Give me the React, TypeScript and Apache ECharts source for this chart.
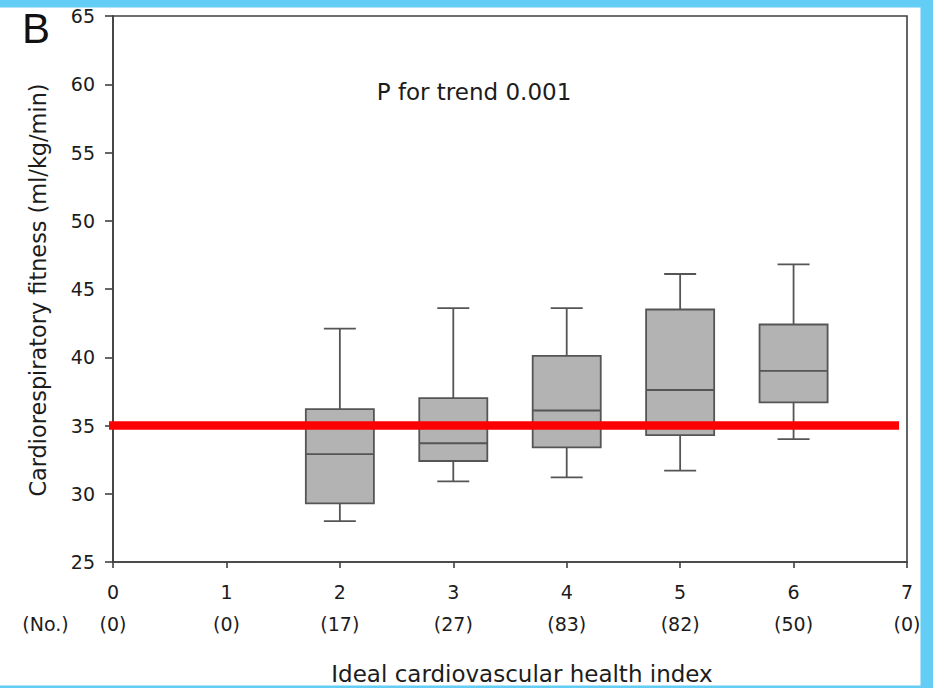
import React, { useEffect, useRef } from "react";
import * as echarts from "echarts";

const indexValues = [0, 1, 2, 3, 4, 5, 6, 7];
const counts = [0, 0, 17, 27, 83, 82, 50, 0];
const boxX = [2, 3, 4, 5, 6];
const whiskerLow = [28.0, 30.9, 31.2, 31.7, 34.0];
const q1 = [29.3, 32.4, 33.4, 34.3, 36.7];
const median = [32.9, 33.7, 36.1, 37.6, 39.0];
const q3 = [36.2, 37.0, 40.1, 43.5, 42.4];
const whiskerHigh = [42.1, 43.6, 43.6, 46.1, 46.8];
const referenceValue = 35;
const referenceSpan = [-0.035, 6.93];
const yMin = 25;
const yMax = 65;
const yStep = 5;

const FONT = "DejaVu Sans";
const TEXT = "#1c1c1c";
const LINE = "#404040";
const BOXLINE = "#555555";
const BLUE = "#64CDF6";

export default function App() {
  const ref = useRef<HTMLDivElement>(null);
  useEffect(() => {
    if (!ref.current) return;
    const chart = echarts.init(ref.current, undefined, { renderer: "svg" });
    const boxData = boxX.map((x, i) => [x, whiskerLow[i], q1[i], median[i], q3[i], whiskerHigh[i]]);
    const option: any = {
      animation: false,
      backgroundColor: "#fff",
      grid: {
        left: 113,
        right: 26,
        top: 16,
        bottom: 126,
        show: true,
        borderColor: LINE,
        borderWidth: 1.6,
        backgroundColor: "transparent",
      },
      xAxis: {
        type: "value",
        min: indexValues[0],
        max: indexValues[indexValues.length - 1],
        interval: 1,
        splitLine: { show: false },
        axisLine: { show: true, lineStyle: { color: LINE, width: 1.6 } },
        axisTick: { show: true, inside: false, length: 6, lineStyle: { color: LINE, width: 1.6 } },
        axisLabel: {
          show: true,
          showMinLabel: true,
          showMaxLabel: true,
          margin: 14,
          color: TEXT,
          fontFamily: FONT,
          fontSize: 19,
          formatter: (v: number) => `{a|${v}}\n{b|(${counts[indexValues.indexOf(v)]})}`,
          rich: {
            a: { fontFamily: FONT, fontSize: 19, lineHeight: 32, color: TEXT },
            b: { fontFamily: FONT, fontSize: 19, lineHeight: 32, color: TEXT },
          },
        },
      },
      yAxis: {
        type: "value",
        min: yMin,
        max: yMax,
        interval: yStep,
        splitLine: { show: false },
        axisLine: { show: true, lineStyle: { color: LINE, width: 1.6 } },
        axisTick: { show: true, inside: false, length: 8, lineStyle: { color: LINE, width: 1.6 } },
        axisLabel: { margin: 18, color: TEXT, fontFamily: FONT, fontSize: 19 },
      },
      series: [
        {
          type: "custom",
          data: boxData,
          encode: { x: 0, y: [1, 2, 3, 4, 5] },
          z: 2,
          renderItem: (params: any, api: any) => {
            const x = api.value(0);
            const lo = api.coord([x, api.value(1)]);
            const b1 = api.coord([x, api.value(2)]);
            const md = api.coord([x, api.value(3)]);
            const b3 = api.coord([x, api.value(4)]);
            const hi = api.coord([x, api.value(5)]);
            const unit = api.size([1, 0])[0];
            const hw = unit * 0.3;
            const cw = unit * 0.141;
            const cx = lo[0];
            const st = { stroke: BOXLINE, lineWidth: 1.8, fill: null };
            return {
              type: "group",
              children: [
                { type: "line", shape: { x1: cx, y1: hi[1], x2: cx, y2: b3[1] }, style: st },
                { type: "line", shape: { x1: cx, y1: b1[1], x2: cx, y2: lo[1] }, style: st },
                { type: "line", shape: { x1: cx - cw, y1: hi[1], x2: cx + cw, y2: hi[1] }, style: st },
                { type: "line", shape: { x1: cx - cw, y1: lo[1], x2: cx + cw, y2: lo[1] }, style: st },
                {
                  type: "rect",
                  shape: { x: cx - hw, y: b3[1], width: 2 * hw, height: b1[1] - b3[1] },
                  style: { fill: "#b3b3b3", stroke: BOXLINE, lineWidth: 1.8 },
                },
                { type: "line", shape: { x1: cx - hw, y1: md[1], x2: cx + hw, y2: md[1] }, style: st },
              ],
            };
          },
        },
        {
          type: "line",
          data: referenceSpan.map((x) => [x, referenceValue]),
          clip: false,
          symbol: "none",
          z: 5,
          lineStyle: { color: "#ff0000", width: 8.4 },
        },
      ],
      graphic: [
        { type: "rect", z: 100, shape: { x: 0, y: 0, width: 933, height: 7.5 }, style: { fill: BLUE } },
        { type: "rect", z: 100, shape: { x: 920.5, y: 0, width: 12.5, height: 688 }, style: { fill: BLUE } },
        { type: "rect", z: 100, shape: { x: 0, y: 685.5, width: 933, height: 2.5 }, style: { fill: BLUE } },
        {
          type: "text", x: 22, y: 28,
          style: { text: "B", fontFamily: "Liberation Sans", fontSize: 42, fill: "#111", textAlign: "left", textVerticalAlign: "middle" },
        },
        {
          type: "text", x: 474, y: 92,
          style: { text: "P for trend 0.001", fontFamily: FONT, fontSize: 23, fill: TEXT, textAlign: "center", textVerticalAlign: "middle" },
        },
        {
          type: "text", x: 522, y: 674,
          style: { text: "Ideal cardiovascular health index", fontFamily: FONT, fontSize: 23, fill: TEXT, textAlign: "center", textVerticalAlign: "middle" },
        },
        {
          type: "text", x: 38, y: 290, rotation: Math.PI / 2,
          style: { text: "Cardiorespiratory fitness (ml/kg/min)", fontFamily: FONT, fontSize: 22.4, fill: TEXT, textAlign: "center", textVerticalAlign: "middle" },
        },
        {
          type: "text", x: 45.5, y: 624,
          style: { text: "(No.)", fontFamily: FONT, fontSize: 19, fill: TEXT, textAlign: "center", textVerticalAlign: "middle" },
        },
      ],
    };
    chart.setOption(option);
    return () => chart.dispose();
  }, []);
  return <div ref={ref} style={{ position: "fixed", left: 0, top: 0, width: 933, height: 688 }} />;
}
